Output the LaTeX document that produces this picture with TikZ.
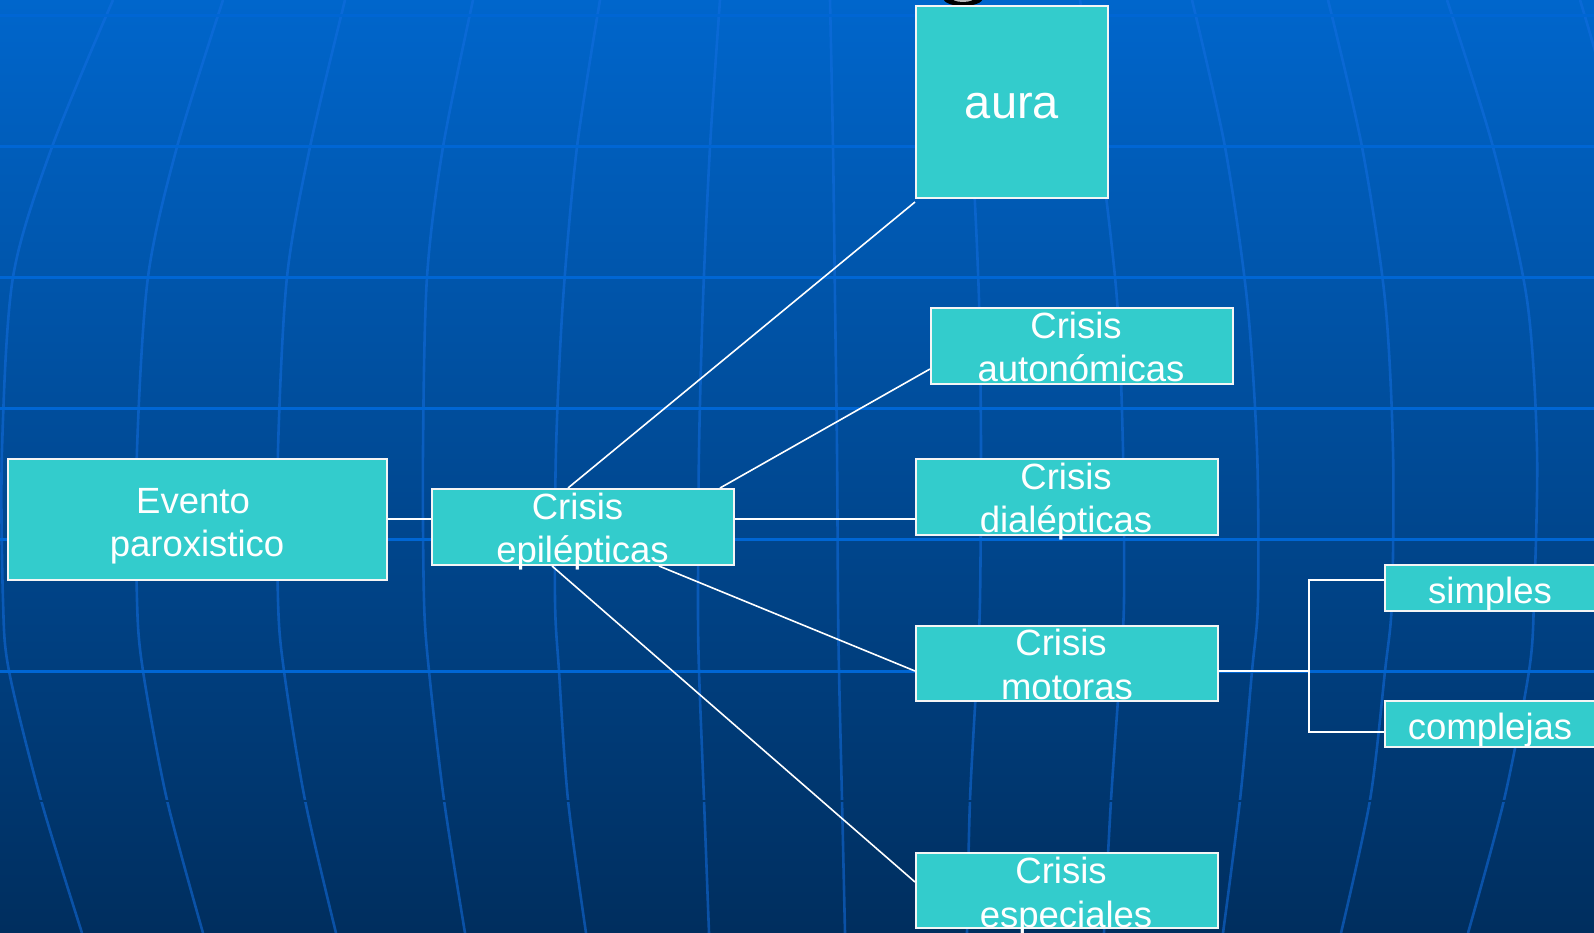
\documentclass[tikz,border=0pt]{standalone}
\usepackage{fontspec}
\setmainfont{Liberation Sans}
\usetikzlibrary{calc}
\definecolor{bgtop}{RGB}{0,102,204}
\definecolor{bgbot}{RGB}{0,46,94}
\definecolor{gridc}{RGB}{0,102,212}
\definecolor{merc}{RGB}{20,110,225}
\definecolor{bandc}{RGB}{0,54,110}
\definecolor{boxc}{RGB}{51,204,204}
\definecolor{edgec}{RGB}{245,245,245}
\tikzset{
  box/.style={draw=edgec, line width=2pt, fill=boxc, inner sep=0pt, rectangle},
  wide/.style={box, minimum width=302pt, minimum height=76pt},
  txt/.style={text=white, font=\fontsize{36.5}{44}\selectfont, inner sep=0pt, anchor=base},
  bigtxt/.style={txt, font=\fontsize{47}{56}\selectfont},
  conn/.style={draw=white, line width=1.6pt},
  mer/.style={draw=merc, line width=2.6pt, opacity=0.55},
  hgrid/.style={draw=gridc, line width=3pt}
}
\begin{document}
\begin{tikzpicture}[x=1pt,y=-1pt]
\useasboundingbox (0,0) rectangle (1594,933);
\begin{scope}
\clip (0,0) rectangle (1594,933);
% background
\shade[top color=bgtop, bottom color=bgbot] (0,0) rectangle (1594,933);
% meridians
\draw[mer] plot[smooth] coordinates {(113,0) (52,147) (13,277) (2,450) (3,600) (9,671) (41,800) (82,933)};
\draw[mer] plot[smooth] coordinates {(223,0) (177,147) (148,277) (137,450) (137,600) (143,671) (167,800) (203,933)};
\draw[mer] plot[smooth] coordinates {(345,0) (310,147) (287,277) (278,450) (278,600) (284,671) (305,800) (336,933)};
\draw[mer] plot[smooth] coordinates {(473,0) (443,147) (427,277) (423,450) (424,600) (429,671) (444,800) (465,933)};
\draw[mer] plot[smooth] coordinates {(600,0) (577,147) (563,300) (556,450) (555,600) (559,671) (568,800) (586,933)};
\draw[mer] plot[smooth] coordinates {(720,0) (710,147) (703,300) (699,450) (698,600) (699,671) (704,800) (709,933)};
\draw[mer] plot[smooth] coordinates {(830,0) (833,147) (835,300) (837,450) (838,600) (839,671) (842,800) (845,933)};
\draw[mer] plot[smooth] coordinates {(962,0) (972,147) (979,300) (981,450) (980,600) (977,671) (970,800) (967,933)};
\draw[mer] plot[smooth] coordinates {(1080,0) (1100,147) (1117,300) (1123,450) (1124,600) (1120,671) (1111,800) (1104,933)};
\draw[mer] plot[smooth] coordinates {(1192,0) (1225,147) (1247,300) (1257,450) (1258,600) (1252,671) (1240,800) (1223,933)};
\draw[mer] plot[smooth] coordinates {(1328,0) (1362,147) (1385,300) (1393,450) (1392,600) (1385,671) (1370,800) (1341,933)};
\draw[mer] plot[smooth] coordinates {(1447,0) (1493,147) (1527,300) (1537,450) (1534,600) (1529,671) (1504,800) (1468,933)};
\draw[mer] plot[smooth] coordinates {(1580,0) (1600,70) (1615,147)};
% band break
\draw[draw=bandc, line width=2pt] (0,801) -- (1594,801);
% horizontal grid
\foreach \yy in {16,147,277,408,539,671} {
  \draw[hgrid] (0,\yy) -- (1594,\yy);
}
% clipped fragment of a title glyph at the top
\fill[black] (963,-2) ellipse [x radius=20pt, y radius=8pt];
\fill[gray!55] (963,-3) ellipse [x radius=12pt, y radius=5pt];

% boxes
\node[box, minimum width=379pt, minimum height=121pt] (evento) at (197.5,519.5) {};
\node[wide] (epil) at (583,527) {};
\node[box, minimum width=192pt, minimum height=192pt] (aura) at (1012,102) {};
\node[wide] (auto) at (1082,346) {};
\node[wide] (dial) at (1067,497) {};
\node[wide, minimum height=75pt] (motor) at (1067,663.5) {};
\node[wide, minimum height=75pt] (espec) at (1067,890.5) {};
\node[box, minimum width=315pt, minimum height=46pt] (simples) at (1542.5,588) {};
\node[box, minimum width=315pt, minimum height=46pt] (complejas) at (1542.5,724) {};

% texts
\node[txt] (evento-a) at (193,513) {Evento};
\node[txt] (evento-b) at (197,556) {paroxistico};
\node[txt] (epil-a) at (577.5,519) {Crisis};
\node[txt] (epil-b) at (582.5,562) {epilépticas};
\node[bigtxt] (aura-t) at (1012,119) {aura};
\node[txt] (auto-a) at (1076,338) {Crisis};
\node[txt] (auto-b) at (1081,381) {autonómicas};
\node[txt] (dial-a) at (1066,489) {Crisis};
\node[txt] (dial-b) at (1066,532) {dialépticas};
\node[txt] (motor-a) at (1061,655) {Crisis};
\node[txt] (motor-b) at (1067,699) {motoras};
\node[txt] (espec-a) at (1061,883) {Crisis};
\node[txt] (espec-b) at (1066,927) {especiales};
\node[txt] (simples-t) at (1490,603) {simples};
\node[txt] (complejas-t) at (1490,739) {complejas};

% connectors
\draw[conn] ([yshift=0.5pt]evento.east) -- ([yshift=0.5pt]evento.east -| epil.west);
\draw[conn] ([xshift=-15pt]epil.north) -- ([yshift=-3pt]aura.south west);
\draw[conn] ([xshift=-15pt]epil.north east) -- ([yshift=-23pt]auto.west);
\draw[conn] ([yshift=8pt]epil.east) -- ([yshift=8pt]epil.east -| dial.west);
\draw[conn] ([xshift=76pt]epil.south) -- ([yshift=-7.5pt]motor.west);
\draw[conn] ([xshift=-31pt]epil.south) -- ([yshift=8.5pt]espec.west);
\coordinate (fork) at (1309,671);
\draw[conn] ([yshift=-7.5pt]motor.east) -- (fork);
\draw[conn] ([yshift=8pt]simples.west) -| (fork) |- ([yshift=-8pt]complejas.west);
\end{scope}
\end{tikzpicture}
\end{document}
